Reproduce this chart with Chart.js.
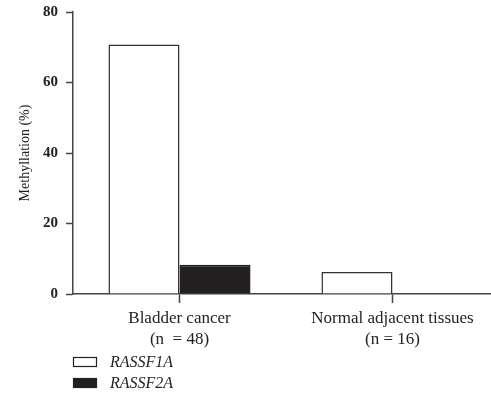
<!DOCTYPE html>
<html>
<head>
<meta charset="utf-8">
<script src="https://cdn.jsdelivr.net/npm/chart.js@4"></script>
<style>
    html, body { margin: 0; padding: 0; background: #fff; overflow: hidden; }
    #wrap { width: 500px; height: 396px; }
</style>
</head>
<body>
<div id="wrap"><canvas id="methChart" width="500" height="396"></canvas></div>
<script>
// data
const categories = [['Bladder cancer', '(n  = 48)'], ['Normal adjacent tissues', '(n = 16)']];
const seriesNames = ['RASSF1A', 'RASSF2A'];
const rassf1a = [70.8, 6.25];
const rassf2a = [8.3, 0];
const yTicks = [0, 20, 40, 60, 80];

const ink = '#222';
const axisCol = '#444';
const serif = "'Liberation Serif', 'DejaVu Serif', serif";

// legend stacked under the axis, on the left
const sideLegend = {
    id: 'sideLegend',
    afterDraw(chart) {
        const c = chart.ctx;
        c.save();
        chart.data.datasets.forEach((ds, i) => {
            const y = 357 + i * 21;
            c.fillStyle = ds.backgroundColor;
            c.strokeStyle = '#222';
            c.lineWidth = 1.2;
            c.fillRect(73, y, 24, 10);
            c.strokeRect(73.5, y + 0.5, 23, 9);
            c.fillStyle = ink;
            c.font = 'italic 16px ' + serif;
            c.textBaseline = 'middle';
            c.fillText(ds.label, 110, y + 5.5);
        });
        c.restore();
    }
};

const ctx = document.getElementById('methChart').getContext('2d');
new Chart(ctx, {
    type: 'bar',
    data: {
        labels: categories,
        datasets: [{
            label: seriesNames[0],
            data: rassf1a,
            backgroundColor: '#ffffff',
            borderColor: '#333',
            borderWidth: 1.5
        }, {
            label: seriesNames[1],
            data: rassf2a,
            backgroundColor: '#231f20',
            borderColor: '#231f20',
            borderWidth: 1.5
        }]
    },
    options: {
        responsive: false,
        animation: false,
        categoryPercentage: 0.667,
        barPercentage: 1,
        layout: { padding: { top: 12, left: 0, right: 1, bottom: 0 } },
        scales: {
            x: {
                afterFit: s => { s.height = 102; },
                grid: {
                    offset: false,
                    drawOnChartArea: false,
                    tickLength: 9,
                    tickColor: axisCol,
                    tickWidth: 1.5
                },
                border: { color: axisCol, width: 1.5 },
                ticks: {
                    color: ink,
                    padding: 5,
                    font: { family: serif, size: 17, lineHeight: 1.22 }
                }
            },
            y: {
                min: 0,
                max: 80,
                afterFit: s => { s.width = 73; s.paddingTop = 0; },
                afterBuildTicks: s => { s.ticks = yTicks.map(v => ({ value: v })); },
                grid: {
                    drawOnChartArea: false,
                    tickLength: 7,
                    tickColor: axisCol,
                    tickWidth: 1.5
                },
                border: { color: axisCol, width: 1.5 },
                ticks: {
                    color: ink,
                    padding: 8,
                    font: { family: serif, size: 15, weight: 'bold' }
                },
                title: {
                    display: true,
                    text: 'Methyllation (%)',
                    color: ink,
                    padding: { top: 17, bottom: 0 },
                    font: { family: serif, size: 14 }
                }
            }
        },
        plugins: {
            legend: { display: false },
            tooltip: { enabled: false }
        }
    },
    plugins: [sideLegend]
});
</script>
</body>
</html>
